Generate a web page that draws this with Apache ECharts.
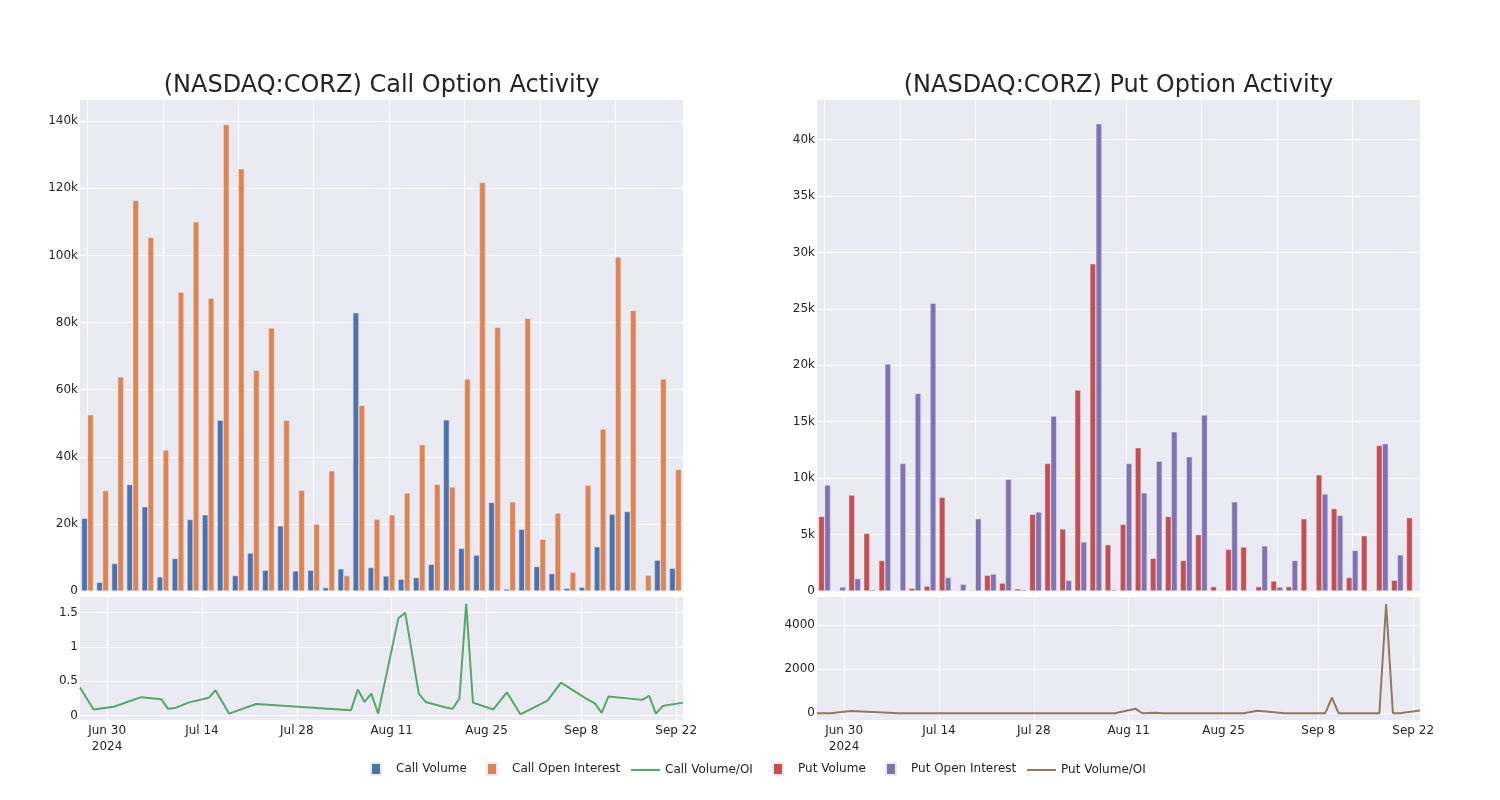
<!DOCTYPE html>
<html><head><meta charset="utf-8">
<script src="https://cdn.jsdelivr.net/npm/echarts@6/dist/echarts.min.js"></script>
<style>html,body{margin:0;padding:0;background:#fff}#chart{width:1500px;height:800px}</style>
</head><body><div id="chart"></div>
<script>
const dates = ['2024-06-26','2024-06-28','2024-07-01','2024-07-05','2024-07-08','2024-07-09','2024-07-10','2024-07-12','2024-07-15','2024-07-16','2024-07-18','2024-07-22','2024-08-05','2024-08-06','2024-08-07','2024-08-08','2024-08-09','2024-08-12','2024-08-13','2024-08-15','2024-08-16','2024-08-19','2024-08-20','2024-08-21','2024-08-22','2024-08-23','2024-08-26','2024-08-28','2024-08-30','2024-09-03','2024-09-05','2024-09-09','2024-09-10','2024-09-11','2024-09-12','2024-09-17','2024-09-18','2024-09-19','2024-09-20','2024-09-23'];
const callVolume = [21700,2600,8200,31700,25100,4200,9700,21300,22700,50900,4600,11300,6200,19400,6000,6200,1000,6600,82900,7000,4500,3500,4000,7960,51000,12700,10700,26400,600,18400,7300,5200,800,1100,13200,22900,23700,150,9200,6800];
const callOpenInterest = [52500,29900,63800,116400,105300,42000,89000,110000,87200,139000,125800,65800,78400,50900,30000,19900,35800,4600,55300,21400,22700,29200,43600,31800,31000,63200,121700,78600,26600,81300,15400,23200,5600,31500,48300,99500,83600,4700,63200,36200];
const callVolumeOI = [0.41,0.09,0.13,0.27,0.24,0.10,0.11,0.19,0.26,0.37,0.03,0.17,0.08,0.38,0.20,0.32,0.03,1.42,1.50,0.32,0.20,0.12,0.10,0.25,1.63,0.19,0.09,0.34,0.02,0.22,0.48,0.23,0.18,0.04,0.28,0.23,0.29,0.03,0.14,0.19];
const putVolume = [6600,0,8500,5100,2700,0,240,440,8300,0,0,1400,700,200,6800,11300,5500,17800,29000,4100,5900,12700,2900,6600,2700,5000,390,3700,3900,390,890,390,6400,10300,7300,1200,4900,12900,950,6500];
const putOpenInterest = [9400,360,1100,120,20100,11300,17500,25500,1200,600,6400,1500,9900,120,7000,15500,950,4350,41400,120,11300,8700,11500,14100,11900,15600,0,7900,30,4000,360,2700,9,8600,6700,3600,1,13050,3200,50];
const putVolumeOI = [0.7,0,100,50,2,0,0.01,0.02,7,0,0,0.9,0.07,2,1,0.7,5.8,210,0.7,27,0.5,1.5,0.25,0.5,0.2,0.3,0,0.47,120,0.1,2.5,0.14,705,1.2,1.1,0.33,4950,1.0,0.3,130];

const callVolTicks = [0,20000,40000,60000,80000,100000,120000,140000];
const putVolTicks = [0,5000,10000,15000,20000,25000,30000,35000,40000];
const callRatioTicks = [0,0.5,1,1.5];
const putRatioTicks = [0,2000,4000];
const dateTicks = ['2024-06-30','2024-07-14','2024-07-28','2024-08-11','2024-08-25','2024-09-08','2024-09-22'];
const barGridTicks = [0,5,10,15,20,25,30,35];
const legendNames = ['Call Volume','Call Open Interest','Call Volume/OI','Put Volume','Put Open Interest','Put Volume/OI'];

const FONT = 'DejaVu Sans';
const TXT = '#242424';
const BG = '#EAEAF2';
const ts = d => Date.parse(d + 'T00:00:00Z');
const MON = ['Jan','Feb','Mar','Apr','May','Jun','Jul','Aug','Sep','Oct','Nov','Dec'];
const fmtDate = v => { const d = new Date(v); let s = MON[d.getUTCMonth()] + ' ' + d.getUTCDate(); if (v === ts(dateTicks[0])) s += '\n2024'; return s; };
const kfmt = v => v === 0 ? '0' : (v / 1000) + 'k';

const grids = [
  {left: 80, width: 603, top: 100, height: 491},
  {left: 80, width: 603, top: 597, height: 123},
  {left: 817, width: 603, top: 100, height: 491},
  {left: 817, width: 603, top: 597, height: 123}
].map(g => Object.assign({show: true, backgroundColor: BG, borderWidth: 0, containLabel: false}, g));

const split = {show: true, lineStyle: {color: '#ffffff', width: 1}};
function barX(gi) {
  return {type: 'value', gridIndex: gi, min: -0.5, max: 39.5, axisLine: {show: false},
    axisTick: {show: false, customValues: barGridTicks}, axisLabel: {show: false, customValues: barGridTicks}, splitLine: split};
}
function dateX(gi) {
  const cv = dateTicks.map(ts);
  return {type: 'value', gridIndex: gi, min: ts('2024-06-26'), max: ts('2024-09-23'), axisLine: {show: false},
    axisTick: {show: false, customValues: cv},
    axisLabel: {customValues: cv, formatter: fmtDate, color: TXT, fontSize: 12, fontFamily: FONT, margin: 3, lineHeight: 16},
    splitLine: split};
}
function valY(gi, min, max, ticks, fmt) {
  return {type: 'value', gridIndex: gi, min: min, max: max, axisLine: {show: false},
    axisTick: {show: false, customValues: ticks},
    axisLabel: {customValues: ticks, formatter: fmt, color: TXT, fontSize: 12, fontFamily: FONT, margin: 2},
    splitLine: split};
}

const colors = ['#4C72B0', '#DD8452', '#55A868', '#C44E52', '#8172B3', '#937860'];
function bar(name, xi, yi, arr, color) {
  return {name: name, type: 'bar', xAxisIndex: xi, yAxisIndex: yi, barWidth: 6, barGap: '0%',
    data: arr.map((v, i) => [i, v]), itemStyle: {color: color, borderColor: BG, borderWidth: 0.5}};
}
function line(name, xi, yi, arr, color) {
  return {name: name, type: 'line', xAxisIndex: xi, yAxisIndex: yi, showSymbol: false, symbol: 'none',
    data: dates.map((d, i) => [ts(d), arr[i]]), lineStyle: {color: color, width: 2}, itemStyle: {color: color}};
}

const SQ = 'path://M0,0L10,0L10,12L0,12Z';
const LN = 'path://M0,0L28,0L28,2L0,2Z';
const legendLeft = [370, 486, 631, 772, 885, 1027];
const legendTop = [762, 762, 764, 762, 762, 764];
const legendIcon = [SQ, SQ, LN, SQ, SQ, LN];
const legendItemWidth = [30, 30, 29, 30, 30, 29];

const option = {
  animation: false,
  textStyle: {fontFamily: FONT},
  title: [
    {text: '(NASDAQ:CORZ) Call Option Activity', left: 381.5, top: 74, textAlign: 'center', padding: 0,
      textStyle: {fontFamily: FONT, fontSize: 24, fontWeight: 'normal', color: TXT}},
    {text: '(NASDAQ:CORZ) Put Option Activity', left: 1118.5, top: 74, textAlign: 'center', padding: 0,
      textStyle: {fontFamily: FONT, fontSize: 24, fontWeight: 'normal', color: TXT}}
  ],
  legend: legendNames.map((n, i) => ({
    left: legendLeft[i], top: legendTop[i], padding: 0, itemWidth: legendItemWidth[i], itemHeight: 12,
    textStyle: {fontFamily: FONT, fontSize: 12, color: TXT},
    data: [{name: n, icon: legendIcon[i], itemStyle: {color: colors[i]}}]
  })),
  grid: grids,
  xAxis: [barX(0), dateX(1), barX(2), dateX(3)],
  yAxis: [
    valY(0, 0, 146300, callVolTicks, kfmt),
    valY(1, -0.063, 1.728, callRatioTicks, v => String(v)),
    valY(2, 0, 43500, putVolTicks, kfmt),
    valY(3, -303, 5267, putRatioTicks, v => String(v))
  ],
  series: [
    bar('Call Volume', 0, 0, callVolume, colors[0]),
    bar('Call Open Interest', 0, 0, callOpenInterest, colors[1]),
    line('Call Volume/OI', 1, 1, callVolumeOI, colors[2]),
    bar('Put Volume', 2, 2, putVolume, colors[3]),
    bar('Put Open Interest', 2, 2, putOpenInterest, colors[4]),
    line('Put Volume/OI', 3, 3, putVolumeOI, colors[5])
  ]
};
const chart = echarts.init(document.getElementById('chart'), null, {renderer: 'canvas'});
chart.setOption(option);
</script></body></html>
